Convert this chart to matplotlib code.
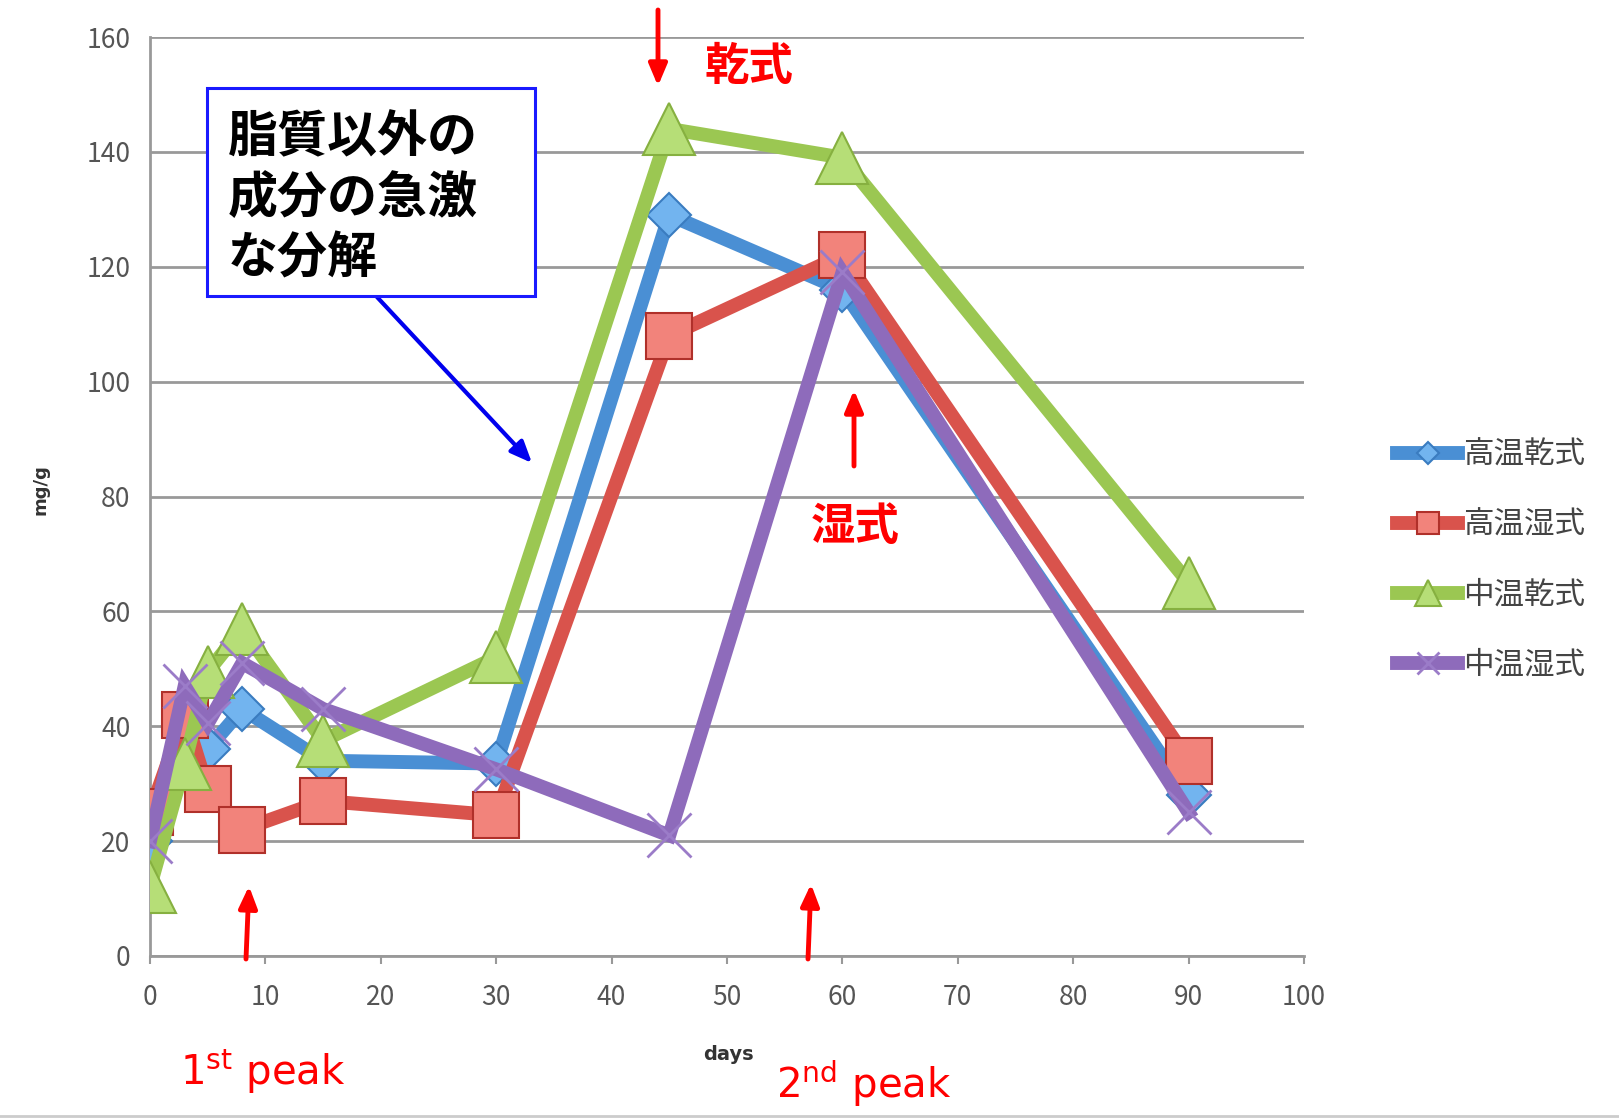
import matplotlib
matplotlib.use("Agg")
import matplotlib.pyplot as plt
from matplotlib.lines import Line2D
from matplotlib.patches import Rectangle, FancyArrowPatch

plt.rcParams['font.family'] = ['Noto Sans CJK JP', 'DejaVu Sans']

days = [0, 3, 5, 8, 15, 30, 45, 60, 90]
series_names = ['高温乾式', '高温湿式', '中温乾式', '中温湿式']
high_dry = [20, 42, 36, 43, 34, 33.5, 129, 116, 28]
high_wet = [25, 42, 29, 22, 27, 24.5, 108, 122, 34]
mid_dry = [12, 33.5, 49.5, 57, 37.5, 52, 144, 139, 65]
mid_wet = [20, 47, 40.5, 51, 43, 32.5, 21, 119, 25]

y_ticks = [0, 20, 40, 60, 80, 100, 120, 140, 160]
x_ticks = [0, 10, 20, 30, 40, 50, 60, 70, 80, 90, 100]

W, H = 1619, 1120
fig = plt.figure(figsize=(W / 100, H / 100), dpi=100)
ax = fig.add_axes([150 / W, 1 - 956 / H, (1304 - 150) / W, (956 - 37) / H])

styles = [
    dict(color='#4a8fd4', marker='D', ms=22, mfc='#72b4ef', mec='#3a7cc0', mew=1.5),
    dict(color='#d9534c', marker='s', ms=33, mfc='#f2837b', mec='#b0302a', mew=1.5),
    dict(color='#9bc752', marker='^', ms=37, mfc='#b6de77', mec='#86b040', mew=1.5),
    dict(color='#8e6bbb', marker='x', ms=32, mec='#9b7cc8', mew=2),
]
data = [high_dry, high_wet, mid_dry, mid_wet]
for i, (vals, st, name) in enumerate(zip(data, styles, series_names)):
    ax.plot(days, vals, lw=10, label=name, zorder=3 + i, solid_joinstyle='miter', **st)

ax.set_xlim(0, 100)
ax.set_ylim(0, 160)
ax.set_xticks(x_ticks)
ax.set_yticks(y_ticks)
ax.tick_params(axis='both', labelsize=19, labelcolor='#555555', color='#999999',
               width=1.5, length=6)
ax.tick_params(axis='y', length=0, pad=14)
ax.tick_params(axis='x', pad=14)
ax.yaxis.grid(True, color='#999999', lw=2)
ax.set_axisbelow(True)
for s in ['top', 'right']:
    ax.spines[s].set_visible(False)
for s in ['left', 'bottom']:
    ax.spines[s].set_color('#999999')
    ax.spines[s].set_linewidth(2)

fig.text(40 / W, 1 - 490 / H, 'mg/g', rotation=90, fontsize=13, fontweight='bold',
         color='#333333', ha='center', va='center', family='DejaVu Sans')
fig.text(728 / W, 1 - 1055 / H, 'days', fontsize=14, fontweight='bold',
         color='#333333', ha='center', va='center', family='DejaVu Sans')

# Legend
leg = ax.legend(loc='center left', bbox_to_anchor=(1385 / W, 1 - 560 / H),
                bbox_transform=fig.transFigure, frameon=False, fontsize=22,
                handlelength=2.0, handletextpad=0.15, labelspacing=1.28,
                markerscale=0.5, borderaxespad=0)
for t in leg.get_texts():
    t.set_color('#444444')

# Text box
fig.add_artist(Rectangle((207 / W, 1 - 296 / H), (535 - 207) / W, (296 - 88) / H,
                         transform=fig.transFigure, fc='white', ec='#1a1aff', lw=2.2,
                         zorder=10))
fig.text(228 / W, 1 - 112 / H, '脂質以外の\n成分の急激\nな分解', fontsize=36, fontweight='bold',
         color='black', ha='left', va='top', linespacing=1.25, zorder=11)

def farrow(x0, y0, x1, y1, color, lw=3):
    fig.add_artist(FancyArrowPatch(
        (x0 / W, 1 - y0 / H), (x1 / W, 1 - y1 / H), transform=fig.transFigure,
        arrowstyle='-|>,head_length=13,head_width=5.5', color=color, lw=lw,
        mutation_scale=1, shrinkA=0, shrinkB=0))

farrow(377, 297, 532, 463, '#0000ee', 3)
farrow(658, 10, 658, 86, 'red', 3.5)
farrow(854, 466, 854, 390, 'red', 3.5)
farrow(246, 959, 249, 886, 'red', 3.5)
farrow(808, 959, 811, 884, 'red', 3.5)

fig.text(749 / W, 1 - 67 / H, '乾式', fontsize=32, fontweight='bold', color='red',
         ha='center', va='center')
fig.text(855 / W, 1 - 527 / H, '湿式', fontsize=32, fontweight='bold', color='red',
         ha='center', va='center')
fig.text(263 / W, 1 - 1072 / H, r'1$^{\mathrm{st}}$ peak', fontsize=29, color='red',
         ha='center', va='center', family='DejaVu Sans')
fig.text(864 / W, 1 - 1084 / H, r'2$^{\mathrm{nd}}$ peak', fontsize=29, color='red',
         ha='center', va='center', family='DejaVu Sans')

fig.add_artist(Line2D([0, 1], [1 - 1116 / H, 1 - 1116 / H], transform=fig.transFigure,
                      color='#cccccc', lw=2))

fig.savefig('out.png', dpi=100)
